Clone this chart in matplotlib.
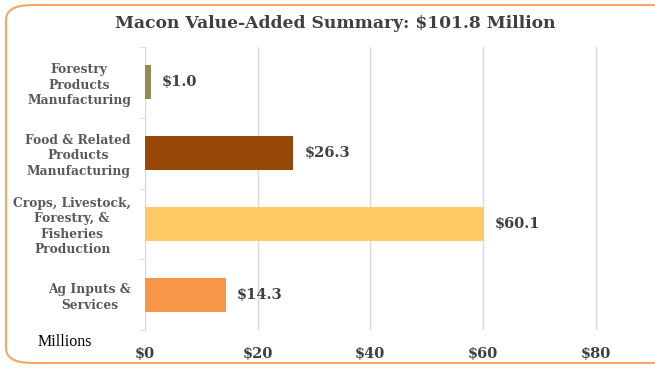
import matplotlib
matplotlib.use('Agg')
from matplotlib import pyplot as plt
from matplotlib.patches import FancyBboxPatch

# value added by sector, millions of dollars (top to bottom)
sectors = ["Forestry\nProducts\nManufacturing",
           "Food & Related\nProducts\nManufacturing",
           "Crops, Livestock,\nForestry, &\nFisheries\nProduction",
           "Ag Inputs &\nServices"]
values = [1.0, 26.3, 60.1, 14.3]
colors = ["#948A54", "#974706", "#FFC966", "#F79646"]
xticks = [0, 20, 40, 60, 80]
xticklabels = ["$0", "$20", "$40", "$60", "$80"]

plt.rcParams['font.family'] = ['DejaVu Serif']

fig = plt.figure(figsize=(6.55, 3.68), dpi=100)

# rounded orange frame around the chart
frame = FancyBboxPatch((6 / 655, 5 / 368), 680 / 655, 358 / 368,
                       boxstyle="round,pad=0,rounding_size=0.04",
                       transform=fig.transFigure, facecolor="none",
                       edgecolor="#F9A55F", linewidth=1.5, zorder=-1)
fig.patches.append(frame)

ax = fig.add_axes([145 / 655, 1 - 330 / 368, 507 / 655, 283 / 368])
ax.set_facecolor("none")

pos = list(range(len(sectors)))
ax.barh(pos, values, height=0.48, color=colors, zorder=3)
ax.set_ylim(len(sectors) - 0.5, -0.5)
ax.set_xlim(0, 90)

for y, v in zip(pos, values):
    ax.text(v + 2.0, y, "$%.1f" % v, va="center", ha="left",
            fontsize=10.5, fontweight="bold", color="#404040")

ax.set_xticks(xticks)
ax.set_xticklabels(xticklabels, fontsize=10.5, fontweight="bold", color="#404040")
ax.tick_params(axis="x", length=0, pad=12)
ax.grid(axis="x", color="#D9D9D9", linewidth=1, zorder=0)

ax.set_yticks(pos)
ax.set_yticklabels(sectors, fontsize=8.8, fontweight="bold", color="#595959",
                   ha="right", multialignment="center", linespacing=1.25)
ax.tick_params(axis="y", length=0, pad=10)
# small separators between categories
ax.set_yticks([p + 0.5 for p in pos[:-1]] + [-0.5, len(sectors) - 0.5], minor=True)
ax.tick_params(axis="y", which="minor", length=4, color="#D9D9D9")

for side in ["top", "right", "bottom"]:
    ax.spines[side].set_visible(False)
ax.spines["left"].set_color("#D9D9D9")

fig.text(335 / 655, 1 - 24 / 368, "Macon Value-Added Summary: $101.8 Million",
         ha="center", va="center", fontsize=12.3, fontweight="bold", color="#404040")
fig.text(65 / 655, 1 - 342 / 368, "Millions", ha="center", va="center",
         fontsize=11.5, color="black", family="Liberation Serif")

fig.savefig("out.png", dpi=100)
